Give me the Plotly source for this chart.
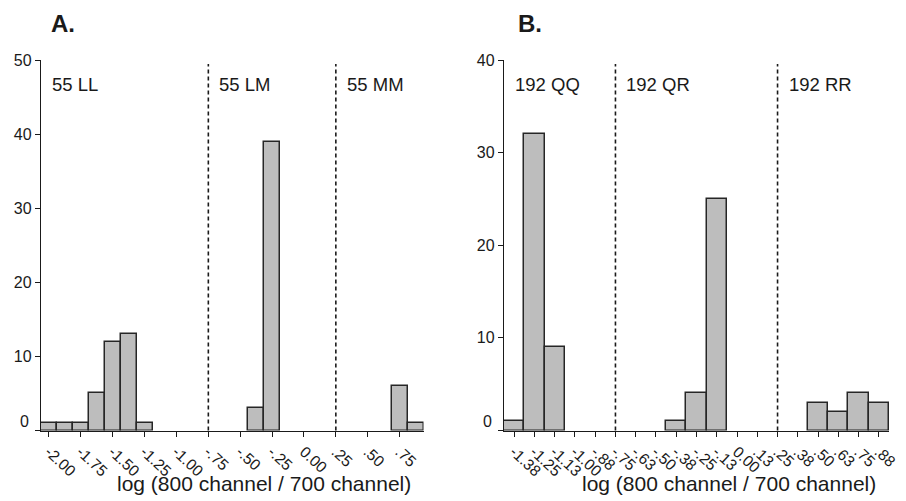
import plotly.graph_objects as go

# Histogram bins (bin centre, count) for each genotype panel
a_centers = [-2.0, -1.875, -1.75, -1.625, -1.5, -1.375, -1.25, -0.375, -0.25, 0.75, 0.875]
a_counts = [1, 1, 1, 5, 12, 13, 1, 3, 39, 6, 1]
a_tickvals = [-2.0, -1.75, -1.5, -1.25, -1.0, -0.75, -0.5, -0.25, 0.0, 0.25, 0.5, 0.75]
a_ticktext = ["-2.00", "-1.75", "-1.50", "-1.25", "-1.00", "-.75", "-.50", "-.25",
              "0.00", ".25", ".50", ".75"]
a_groups = ["55 LL", "55 LM", "55 MM"]

b_centers = [-1.375, -1.25, -1.125, -0.375, -0.25, -0.125, 0.5, 0.625, 0.75, 0.875]
b_counts = [1, 32, 9, 1, 4, 25, 3, 2, 4, 3]
b_tickvals = [-1.375, -1.25, -1.125, -1.0, -0.875, -0.75, -0.625, -0.5, -0.375, -0.25,
              -0.125, 0.0, 0.125, 0.25, 0.375, 0.5, 0.625, 0.75, 0.875]
b_ticktext = ["-1.38", "-1.25", "-1.13", "-1.00", "-.88", "-.75", "-.63", "-.50", "-.38",
              "-.25", "-.13", "0.00", ".13", ".25", ".38", ".50", ".63", ".75", ".88"]
b_groups = ["192 QQ", "192 QR", "192 RR"]

bin_width = 0.125
dividers = [-0.75, 0.25]
x_title = "log (800 channel / 700 channel)"

FONT = "Liberation Sans, Arial, Helvetica, sans-serif"
INK = "#1a1a1a"
W, H = 906, 501


def px_x(p):
    return p / W


def px_y(p):
    return 1 - p / H


ydom = [px_y(430.5), px_y(60)]

fig = go.Figure()
bar_style = dict(marker=dict(color="#bdbdbd", line=dict(color="#262626", width=1.5)),
                 width=bin_width, showlegend=False, hoverinfo="x+y")
fig.add_trace(go.Bar(x=a_centers, y=a_counts, xaxis="x", yaxis="y", **bar_style))
fig.add_trace(go.Bar(x=b_centers, y=b_counts, xaxis="x2", yaxis="y2", **bar_style))

xcommon = dict(showline=True, linecolor=INK, linewidth=1.3, ticks="outside", ticklen=5,
               tickcolor=INK, tickwidth=1.2, showgrid=False, zeroline=False, automargin=False,
               tickangle=43, tickfont=dict(family=FONT, size=15.5, color=INK))
ycommon = dict(showline=True, linecolor=INK, linewidth=1.3, ticks="outside", ticklen=5,
               tickcolor=INK, tickwidth=1.2, showgrid=False, zeroline=False, automargin=False,
               tickfont=dict(family=FONT, size=16, color=INK), domain=ydom)

fig.update_layout(
    width=W, height=H, margin=dict(l=0, r=0, t=0, b=0, autoexpand=False),
    paper_bgcolor="white", plot_bgcolor="white", bargap=0,
    xaxis=dict(domain=[px_x(41), px_x(423.5)], range=[-2.0625, 0.9375],
               tickvals=a_tickvals, ticktext=a_ticktext, anchor="y", **xcommon),
    yaxis=dict(range=[0, 50], tickvals=[0, 10, 20, 30, 40, 50],
               ticktext=["", "10", "20", "30", "40", "50"], anchor="x", **ycommon),
    xaxis2=dict(domain=[px_x(504), px_x(889)], range=[-1.4375, 0.9375],
                tickvals=b_tickvals, ticktext=b_ticktext, anchor="y2", **xcommon),
    yaxis2=dict(range=[0, 40], tickvals=[0, 10, 20, 30, 40],
                ticktext=["", "10", "20", "30", "40"], anchor="x2", **ycommon),
)

shapes = []
annotations = []
for xa, ya, groups, left_edge in [("x", "y", a_groups, -2.0625), ("x2", "y2", b_groups, -1.4375)]:
    for d in dividers:
        shapes.append(dict(type="line", xref=xa, yref=f"{ya} domain", x0=d, x1=d, y0=0, y1=0.989,
                           line=dict(color=INK, width=1.6, dash="4px,3px")))
    starts = [left_edge] + dividers
    for s, g in zip(starts, groups):
        annotations.append(dict(text=g, xref=xa, yref=f"{ya} domain", x=s, y=0.933,
                                xanchor="left", yanchor="middle", xshift=9, showarrow=False,
                                font=dict(family=FONT, size=18.5, color=INK)))
    # zero label on the value axis
    annotations.append(dict(text="0", xref=f"{xa} domain", yref=ya, x=0, y=0,
                            xanchor="right", yanchor="middle", xshift=-10, yshift=9,
                            showarrow=False, font=dict(family=FONT, size=16, color=INK)))

for label, cx in [("A.", 49), ("B.", 516)]:
    annotations.append(dict(text=f"<b>{label}</b>", xref="paper", yref="paper",
                            x=px_x(cx), y=px_y(23.5), xanchor="left", yanchor="middle",
                            showarrow=False, font=dict(family=FONT, size=24, color=INK)))

for cx in [264, 729]:
    annotations.append(dict(text=x_title, xref="paper", yref="paper",
                            x=px_x(cx), y=px_y(483), xanchor="center", yanchor="middle",
                            showarrow=False, font=dict(family=FONT, size=21, color=INK)))

fig.update_layout(shapes=shapes, annotations=annotations)
fig.write_html("out.html")
